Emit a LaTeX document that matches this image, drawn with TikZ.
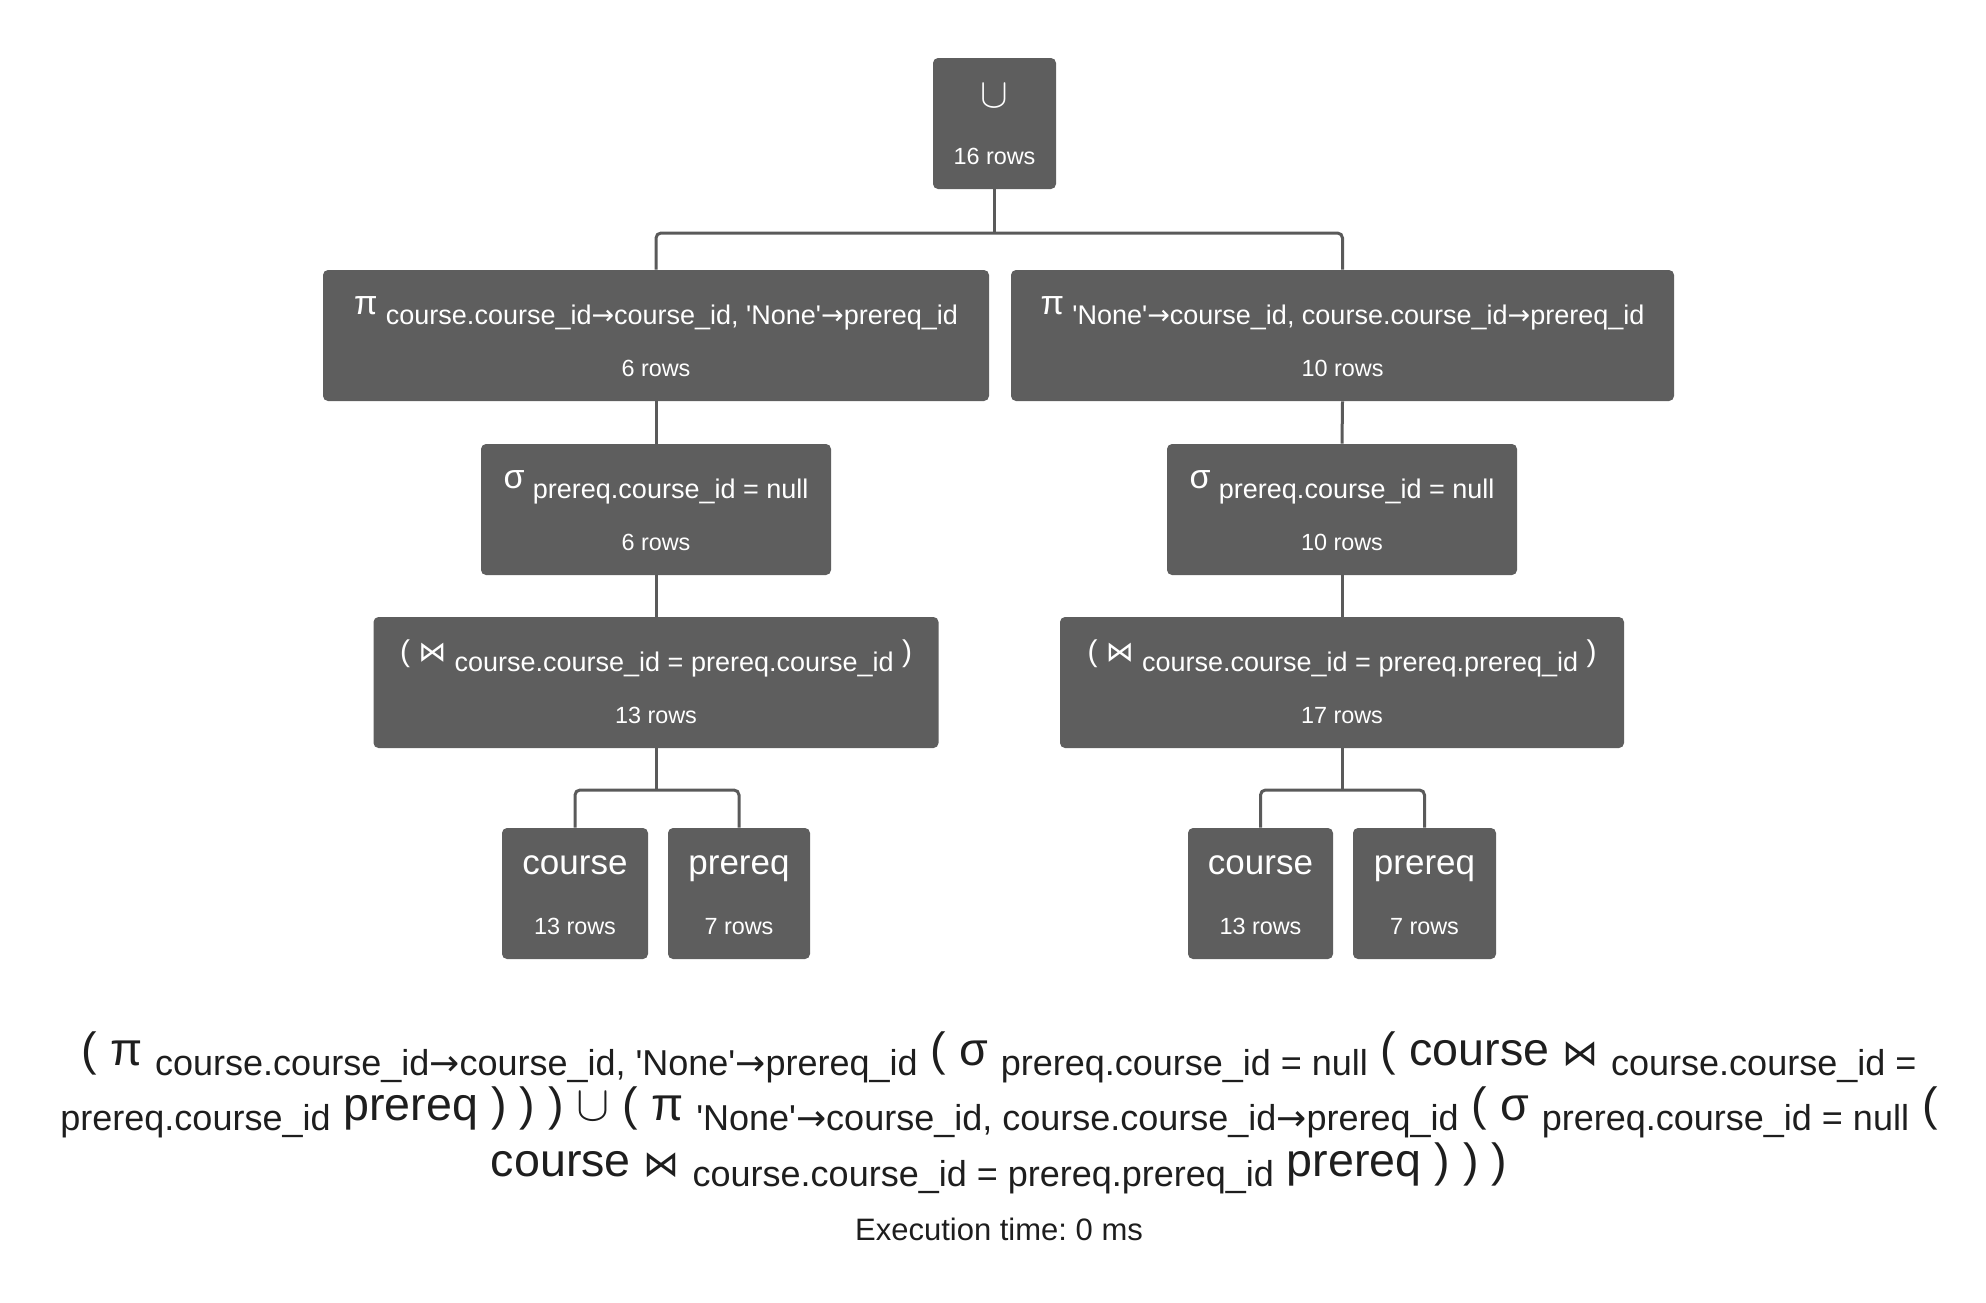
\documentclass[tikz,border=0pt]{standalone}
\usepackage{fontspec}
\setmainfont{Liberation Sans}
\newfontfamily\symf{DejaVu Sans}
\frenchspacing

\definecolor{boxgray}{HTML}{5E5E5E}
\definecolor{linkgray}{HTML}{5A5A5A}
\definecolor{inkdark}{HTML}{1E1E1E}

\newcommand{\sq}{\textquotesingle}
\newcommand{\arr}{{\symf →}}
\newcommand{\unionsym}[1]{{\fontsize{#1}{#1}\selectfont$\cup$}}
\newcommand{\opfont}{\fontsize{15}{18}\selectfont}
\newcommand{\opgreek}[1]{{\fontsize{17}{20}\selectfont #1}}
\newcommand{\opsub}[1]{\raisebox{-5pt}{\fontsize{13.5}{15}\selectfont #1}}
\newcommand{\rowfont}{\fontsize{11.7}{14}\selectfont}
\newcommand{\relfont}{\fontsize{17.5}{21}\selectfont}
\newcommand{\exbig}{\fontsize{23.3}{28}\selectfont}
\newcommand{\exsub}[1]{\raisebox{-5pt}{\fontsize{18}{21}\selectfont #1}}
\newcommand{\joinsym}[1]{{\symf\fontsize{#1}{#1}\selectfont ⋈}}

\begin{document}
\begin{tikzpicture}[x=0.5pt,y=-0.5pt,
  relbox/.style={rectangle,rounded corners=2.5pt,fill=boxgray,inner sep=0pt,minimum height=65.5pt},
  optext/.style={anchor=base,text=white,inner sep=0pt,yshift=-22.5pt},
  rowtext/.style={anchor=base,text=white,inner sep=0pt,font=\rowfont,yshift=12.5pt},
  reltext/.style={anchor=base,text=white,inner sep=0pt,font=\relfont,yshift=-23.5pt},
  link/.style={draw=linkgray,line width=1.5pt,rounded corners=2.5pt},
  expr/.style={anchor=base,text=inkdark,inner sep=0pt}]
  \useasboundingbox (0,0) rectangle (1986,1302);

  \node[relbox,minimum width=61.5pt] (un) at (994.5,123.5) {};
  \node[optext,yshift=-2.5pt] (un-op) at (un.north) {\unionsym{20}};
  \node[rowtext] (un-rows) at (un.south) {16 rows};

  \node[relbox,minimum width=333pt] (pil) at (656,335.5) {};
  \node[optext] (pil-op) at (pil.north) {\opfont\opgreek{π} \opsub{course.course\_id\arr course\_id, \sq None\sq\arr prereq\_id}};
  \node[rowtext] (pil-rows) at (pil.south) {6 rows};
  \node[relbox,minimum width=331.5pt] (pir) at (1342.5,335.5) {};
  \node[optext] (pir-op) at (pir.north) {\opfont\opgreek{π} \opsub{\sq None\sq\arr course\_id, course.course\_id\arr prereq\_id}};
  \node[rowtext] (pir-rows) at (pir.south) {10 rows};

  \node[relbox,minimum width=175pt] (sgl) at (656,509.5) {};
  \node[optext] (sgl-op) at (sgl.north) {\opfont\opgreek{σ} \opsub{prereq.course\_id = null}};
  \node[rowtext] (sgl-rows) at (sgl.south) {6 rows};
  \node[relbox,minimum width=175pt] (sgr) at (1342,509.5) {};
  \node[optext] (sgr-op) at (sgr.north) {\opfont\opgreek{σ} \opsub{prereq.course\_id = null}};
  \node[rowtext] (sgr-rows) at (sgr.south) {10 rows};

  \node[relbox,minimum width=282.5pt] (jnl) at (656,682.5) {};
  \node[optext] (jnl-op) at (jnl.north) {\opfont ( \joinsym{14} \opsub{course.course\_id = prereq.course\_id} )};
  \node[rowtext] (jnl-rows) at (jnl.south) {13 rows};
  \node[relbox,minimum width=282pt] (jnr) at (1342,682.5) {};
  \node[optext] (jnr-op) at (jnr.north) {\opfont ( \joinsym{14} \opsub{course.course\_id = prereq.prereq\_id} )};
  \node[rowtext] (jnr-rows) at (jnr.south) {17 rows};

  \node[relbox,minimum width=73pt] (crl) at (575,893.5) {};
  \node[reltext] (crl-name) at (crl.north) {course};
  \node[rowtext] (crl-rows) at (crl.south) {13 rows};
  \node[relbox,minimum width=71pt] (prl) at (739,893.5) {};
  \node[reltext] (prl-name) at (prl.north) {prereq};
  \node[rowtext] (prl-rows) at (prl.south) {7 rows};
  \node[relbox,minimum width=72.5pt] (crr) at (1260.5,893.5) {};
  \node[reltext] (crr-name) at (crr.north) {course};
  \node[rowtext] (crr-rows) at (crr.south) {13 rows};
  \node[relbox,minimum width=71.5pt] (prr) at (1424.5,893.5) {};
  \node[reltext] (prr-name) at (prr.north) {prereq};
  \node[rowtext] (prr-rows) at (prr.south) {7 rows};

  \coordinate (f0) at (994.5,233);
  \coordinate (f1) at (656,790);
  \coordinate (f2) at (1342,790);
  \draw[link] (un.south) -- (f0);
  \draw[link] (pil.north) |- (f0) -| (pir.north);
  \draw[link] (pil.south) -- (sgl.north);
  \draw[link] (sgl.south) -- (jnl.north);
  \draw[link] (pir.south) -- (sgr.north);
  \draw[link] (sgr.south) -- (jnr.north);
  \draw[link] (jnl.south) -- (f1);
  \draw[link] (crl.north) |- (f1) -| (prl.north);
  \draw[link] (jnr.south) -- (f2);
  \draw[link] (crr.north) |- (f2) -| (prr.north);

  \node[expr] (ex1) at (999,1065) {\exbig ( π \exsub{course.course\_id\arr course\_id, \sq None\sq\arr prereq\_id} ( σ \exsub{prereq.course\_id = null} ( course \joinsym{18} \exsub{course.course\_id =}};
  \node[expr] (ex2) at (999,1120) {\exbig \exsub{prereq.course\_id} prereq ) ) ) \unionsym{24} ( π \exsub{\sq None\sq\arr course\_id, course.course\_id\arr prereq\_id} ( σ \exsub{prereq.course\_id = null} (};
  \node[expr] (ex3) at (999,1176) {\exbig course \joinsym{18} \exsub{course.course\_id = prereq.prereq\_id} prereq ) ) )};
  \node[expr,font=\fontsize{15.5}{18}\selectfont] (extime) at (999,1240) {Execution time: 0 ms};
\end{tikzpicture}
\end{document}
